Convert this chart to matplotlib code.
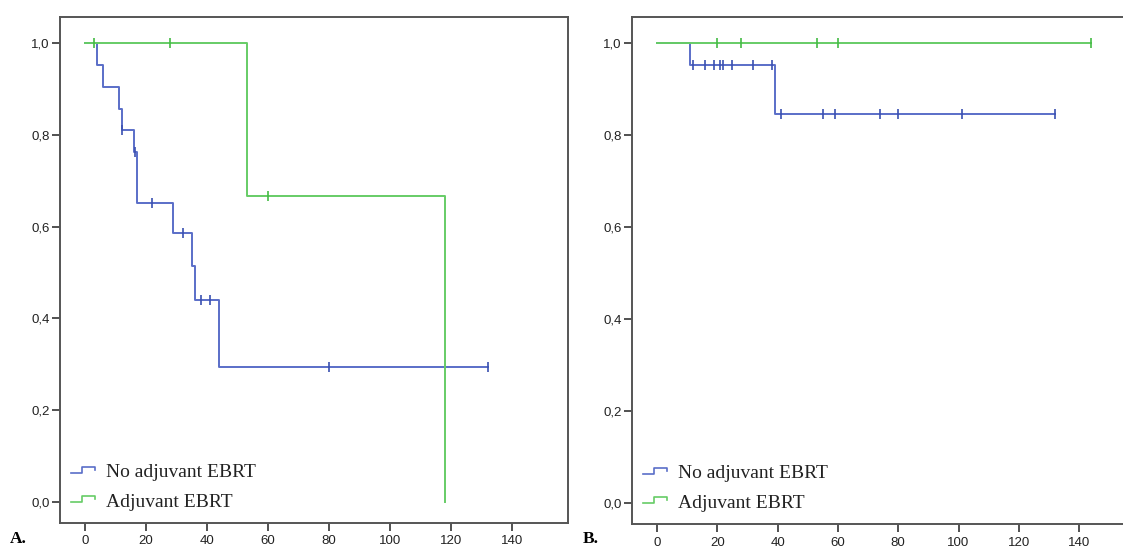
import numpy as np
import matplotlib
matplotlib.use('Agg')
import matplotlib.pyplot as plt
from matplotlib.lines import Line2D
from matplotlib.legend_handler import HandlerBase

# Dados (Kaplan-Meier)
# Painel A
a_sem_tempo = [0, 4, 6, 11, 12, 16, 17, 29, 35, 36, 44, 132]
a_sem_surv = [1.0, 0.952, 0.905, 0.857, 0.810, 0.762, 0.652, 0.587, 0.514, 0.440, 0.293, 0.293]
a_sem_cens = [12, 16.4, 22, 32, 38, 41, 80, 132]
a_com_tempo = [0, 53, 118]
a_com_surv = [1.0, 0.667, 0.0]
a_com_cens = [3, 28, 60]

# Painel B
b_sem_tempo = [0, 11, 39, 132]
b_sem_surv = [1.0, 0.952, 0.846, 0.846]
b_sem_cens = [12, 16, 19, 21, 22, 25, 32, 38, 41, 55, 59, 74, 80, 101, 132]
b_com_tempo = [0, 144]
b_com_surv = [1.0, 1.0]
b_com_cens = [20, 28, 53, 60, 144]

rotulos = ['No adjuvant EBRT', 'Adjuvant EBRT']
xticks = [0, 20, 40, 60, 80, 100, 120, 140]
yticks = [0.0, 0.2, 0.4, 0.6, 0.8, 1.0]

azul = '#5a6ec8'
azul_esc = '#3a50b0'
verde = '#66cc66'
verde_esc = '#44bb44'


# Ícone em degrau para a legenda
class Degrau(HandlerBase):
    def create_artists(self, legend, orig_handle, xdescent, ydescent,
                       width, height, fontsize, trans):
        xs = np.array([0, 0.45, 0.45, 1.0, 1.0]) * width - xdescent
        ys = np.array([0.35, 0.35, 0.75, 0.75, 0.55]) * height - ydescent
        ln = Line2D(xs, ys, color=orig_handle.get_color(), lw=1.2)
        ln.set_transform(trans)
        return [ln]


def valor_em(tempos, surv, t):
    i = np.searchsorted(tempos, t, side='right') - 1
    return np.array(surv)[i]


def painel(ax, dados, xlim):
    handles = []
    for tempo, surv, cens, cor, cor_esc in dados:
        h, = ax.step(tempo, surv, where='post', color=cor, lw=1.4)
        ax.plot(cens, valor_em(tempo, surv, cens), ls='none', marker='|',
                ms=7, mew=1.2, color=cor_esc)
        handles.append(h)
    ax.set_xlim(*xlim)
    ax.set_ylim(-0.0458, 1.0566)
    ax.set_xticks(xticks)
    ax.set_yticks(yticks)
    ax.set_yticklabels([('%.1f' % v).replace('.', ',') for v in yticks])
    for s in ax.spines.values():
        s.set_color('#555555')
        s.set_linewidth(1.4)
    ax.tick_params(direction='out', length=6, width=1.2, color='#333333',
                   labelsize=9.5, labelcolor='#222222')
    ax.tick_params(axis='x', pad=3)
    ax.tick_params(axis='y', pad=1.5)
    for lab in ax.get_xticklabels() + ax.get_yticklabels():
        lab.set_family('Liberation Sans')
    leg = ax.legend(handles, rotulos, loc='upper left', bbox_to_anchor=(0.022, 0.117),
                    frameon=False, borderpad=0, borderaxespad=0,
                    handlelength=1.25, handletextpad=0.55, labelspacing=0.6,
                    handler_map={Line2D: Degrau()},
                    prop={'family': 'Liberation Serif', 'size': 14})
    for t in leg.get_texts():
        t.set_color('#222222')


fig = plt.figure(figsize=(11.23, 5.47), dpi=100)
W, H = 1123.0, 547.0
ax1 = fig.add_axes([60 / W, (H - 523) / H, 508 / W, 506 / H])
ax2 = fig.add_axes([632 / W, (H - 524) / H, 508 / W, 507 / H])

painel(ax1, [(a_sem_tempo, a_sem_surv, a_sem_cens, azul, azul_esc),
             (a_com_tempo, a_com_surv, a_com_cens, verde, verde_esc)], (-8.2, 158.4))
painel(ax2, [(b_sem_tempo, b_sem_surv, b_sem_cens, azul, azul_esc),
             (b_com_tempo, b_com_surv, b_com_cens, verde, verde_esc)], (-8.3, 160.2))

fig.text(10 / W, (H - 539) / H, 'A.', family='Liberation Serif', weight='bold',
         fontsize=12.5, va='center', ha='left')
fig.text(583 / W, (H - 539) / H, 'B.', family='Liberation Serif', weight='bold',
         fontsize=12.5, va='center', ha='left')

fig.savefig('out.png', dpi=100)
